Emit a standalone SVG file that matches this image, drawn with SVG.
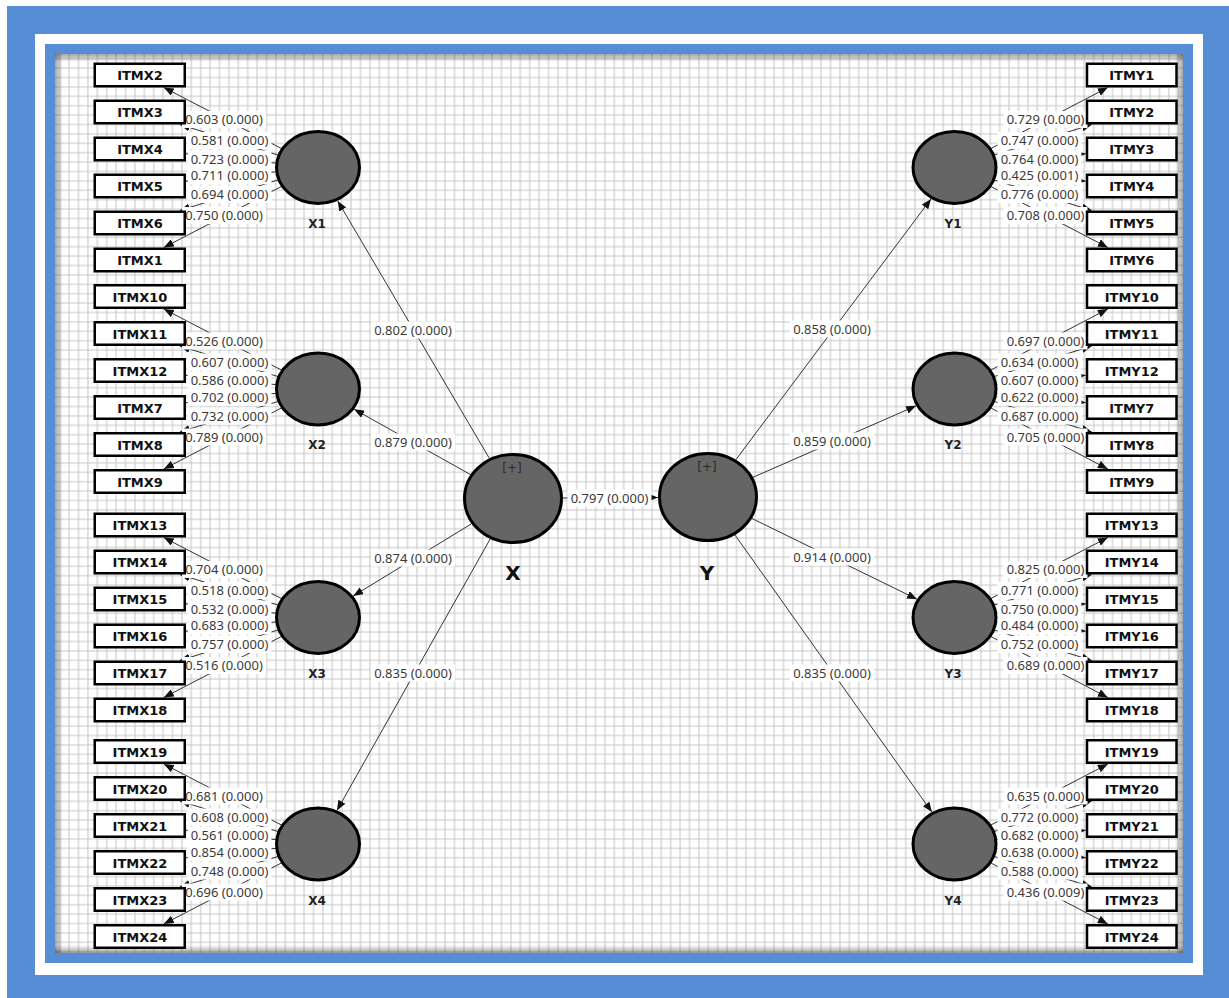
<svg xmlns="http://www.w3.org/2000/svg" width="1229" height="998" viewBox="0 0 1229 998">
<style>
.box{fill:#fff;stroke:#000;stroke-width:2.5}
.bt{font-family:"DejaVu Sans",sans-serif;font-weight:bold;font-size:13px;fill:#111;text-anchor:middle}
.lat{fill:#656565;stroke:#000;stroke-width:3}
.lt{font-family:"DejaVu Sans",sans-serif;font-weight:bold;font-size:12px;fill:#222;text-anchor:middle}
.big{font-family:"DejaVu Sans",sans-serif;font-weight:bold;font-size:20px;fill:#111;text-anchor:middle}
.pl{font-family:"DejaVu Sans",sans-serif;font-size:12px;fill:#2a2a2a;text-anchor:middle}
.ln{stroke:#333;stroke-width:1;fill:none;marker-end:url(#ah)}
.lb{fill:#fff}
.lx{font-family:"Noto Sans",sans-serif;font-size:13px;fill:#3a3a3a;text-anchor:middle}
</style>
<defs>
<pattern id="grid" x="55" y="54" width="9.4" height="9.4" patternUnits="userSpaceOnUse">
<path d="M4.7 0V9.4M0 4.7H9.4" stroke="#c4c4c4" stroke-width="1" fill="none"/>
</pattern>
<marker id="ah" viewBox="0 0 10 8" refX="10" refY="4" markerWidth="10" markerHeight="8" markerUnits="userSpaceOnUse" orient="auto">
<path d="M0,0L10,4L0,8z" fill="#111"/>
</marker>
<linearGradient id="shL" x1="0" y1="0" x2="1" y2="0"><stop offset="0" stop-color="#000" stop-opacity="0.35"/><stop offset="1" stop-color="#000" stop-opacity="0"/></linearGradient>
<linearGradient id="shR" x1="1" y1="0" x2="0" y2="0"><stop offset="0" stop-color="#000" stop-opacity="0.35"/><stop offset="1" stop-color="#000" stop-opacity="0"/></linearGradient>
<linearGradient id="shT" x1="0" y1="0" x2="0" y2="1"><stop offset="0" stop-color="#000" stop-opacity="0.35"/><stop offset="1" stop-color="#000" stop-opacity="0"/></linearGradient>
<linearGradient id="shB" x1="0" y1="1" x2="0" y2="0"><stop offset="0" stop-color="#000" stop-opacity="0.35"/><stop offset="1" stop-color="#000" stop-opacity="0"/></linearGradient>
</defs>

<g id="frame">
<rect width="1229" height="998" fill="#fff"/>
<rect x="7" y="6" width="1222" height="992" fill="#558ed5"/>
<rect x="35" y="34" width="1168" height="941" fill="#fff"/>
<rect x="45" y="44" width="1148" height="919" fill="#558ed5"/>
<rect x="55" y="54" width="1128" height="899" fill="#fff"/>
<rect x="55" y="54" width="1128" height="899" fill="url(#grid)"/>
<rect x="55" y="54" width="8" height="899" fill="url(#shL)"/>
<rect x="1175" y="54" width="8" height="899" fill="url(#shR)"/>
<rect x="55" y="54" width="1128" height="8" fill="url(#shT)"/>
<rect x="55" y="945" width="1128" height="8" fill="url(#shB)"/>
</g>

<g id="connectors">
<path class="ln" d="M318,167.5L163.8,87.5"/>
<path class="ln" d="M318,167.5L179.9,124.5"/>
<path class="ln" d="M318,167.5L186,153.8"/>
<path class="ln" d="M318,167.5L186,181.2"/>
<path class="ln" d="M318,167.5L179.9,210.5"/>
<path class="ln" d="M318,167.5L163.8,247.5"/>
<path class="ln" d="M318,389L163.8,309"/>
<path class="ln" d="M318,389L179.9,346"/>
<path class="ln" d="M318,389L186,375.3"/>
<path class="ln" d="M318,389L186,402.7"/>
<path class="ln" d="M318,389L179.9,432"/>
<path class="ln" d="M318,389L163.8,469"/>
<path class="ln" d="M318,617.5L163.8,537.5"/>
<path class="ln" d="M318,617.5L179.9,574.5"/>
<path class="ln" d="M318,617.5L186,603.8"/>
<path class="ln" d="M318,617.5L186,631.2"/>
<path class="ln" d="M318,617.5L179.9,660.5"/>
<path class="ln" d="M318,617.5L163.8,697.5"/>
<path class="ln" d="M318,844L163.8,764"/>
<path class="ln" d="M318,844L179.9,801"/>
<path class="ln" d="M318,844L186,830.3"/>
<path class="ln" d="M318,844L186,857.7"/>
<path class="ln" d="M318,844L179.9,887"/>
<path class="ln" d="M318,844L163.8,924"/>
<path class="ln" d="M954.5,167.5L1107.8,87.5"/>
<path class="ln" d="M954.5,167.5L1091.8,124.5"/>
<path class="ln" d="M954.5,167.5L1085.7,153.8"/>
<path class="ln" d="M954.5,167.5L1085.7,181.2"/>
<path class="ln" d="M954.5,167.5L1091.8,210.5"/>
<path class="ln" d="M954.5,167.5L1107.8,247.5"/>
<path class="ln" d="M954.5,389L1107.8,309"/>
<path class="ln" d="M954.5,389L1091.8,346"/>
<path class="ln" d="M954.5,389L1085.7,375.3"/>
<path class="ln" d="M954.5,389L1085.7,402.7"/>
<path class="ln" d="M954.5,389L1091.8,432"/>
<path class="ln" d="M954.5,389L1107.8,469"/>
<path class="ln" d="M954.5,617.5L1107.8,537.5"/>
<path class="ln" d="M954.5,617.5L1091.8,574.5"/>
<path class="ln" d="M954.5,617.5L1085.7,603.8"/>
<path class="ln" d="M954.5,617.5L1085.7,631.2"/>
<path class="ln" d="M954.5,617.5L1091.8,660.5"/>
<path class="ln" d="M954.5,617.5L1107.8,697.5"/>
<path class="ln" d="M954.5,844L1107.8,764"/>
<path class="ln" d="M954.5,844L1091.8,801"/>
<path class="ln" d="M954.5,844L1085.7,830.3"/>
<path class="ln" d="M954.5,844L1085.7,857.7"/>
<path class="ln" d="M954.5,844L1091.8,887"/>
<path class="ln" d="M954.5,844L1107.8,924"/>
<path class="ln" d="M489.4,458.4L337.7,200.9"/>
<path class="ln" d="M470.5,474.6L354.2,409.3"/>
<path class="ln" d="M471.5,523.8L353.2,596"/>
<path class="ln" d="M490.2,539L337,810.4"/>
<path class="ln" d="M735.9,459.7L931,198.9"/>
<path class="ln" d="M753,477.3L916.1,405.8"/>
<path class="ln" d="M752,518.5L917,599.2"/>
<path class="ln" d="M734.9,534.9L931.9,812.1"/>
<path class="ln" d="M563,498L658,497.5"/>
</g>

<g id="edge-labels">
<rect class="lb" x="182" y="111" width="84" height="17"/><text class="lx" x="224" y="124">0.603 (0.000)</text>
<rect class="lb" x="187.5" y="132" width="84" height="17"/><text class="lx" x="229.5" y="145">0.581 (0.000)</text>
<rect class="lb" x="187.5" y="150.5" width="84" height="17"/><text class="lx" x="229.5" y="163.5">0.723 (0.000)</text>
<rect class="lb" x="187.5" y="167.3" width="84" height="17"/><text class="lx" x="229.5" y="180.3">0.711 (0.000)</text>
<rect class="lb" x="187.5" y="186" width="84" height="17"/><text class="lx" x="229.5" y="199">0.694 (0.000)</text>
<rect class="lb" x="182" y="207" width="84" height="17"/><text class="lx" x="224" y="220">0.750 (0.000)</text>

<rect class="lb" x="182" y="332.5" width="84" height="17"/><text class="lx" x="224" y="345.5">0.526 (0.000)</text>
<rect class="lb" x="187.5" y="353.5" width="84" height="17"/><text class="lx" x="229.5" y="366.5">0.607 (0.000)</text>
<rect class="lb" x="187.5" y="372" width="84" height="17"/><text class="lx" x="229.5" y="385">0.586 (0.000)</text>
<rect class="lb" x="187.5" y="388.8" width="84" height="17"/><text class="lx" x="229.5" y="401.8">0.702 (0.000)</text>
<rect class="lb" x="187.5" y="407.5" width="84" height="17"/><text class="lx" x="229.5" y="420.5">0.732 (0.000)</text>
<rect class="lb" x="182" y="428.5" width="84" height="17"/><text class="lx" x="224" y="441.5">0.789 (0.000)</text>

<rect class="lb" x="182" y="561" width="84" height="17"/><text class="lx" x="224" y="574">0.704 (0.000)</text>
<rect class="lb" x="187.5" y="582" width="84" height="17"/><text class="lx" x="229.5" y="595">0.518 (0.000)</text>
<rect class="lb" x="187.5" y="600.5" width="84" height="17"/><text class="lx" x="229.5" y="613.5">0.532 (0.000)</text>
<rect class="lb" x="187.5" y="617.3" width="84" height="17"/><text class="lx" x="229.5" y="630.3">0.683 (0.000)</text>
<rect class="lb" x="187.5" y="636" width="84" height="17"/><text class="lx" x="229.5" y="649">0.757 (0.000)</text>
<rect class="lb" x="182" y="657" width="84" height="17"/><text class="lx" x="224" y="670">0.516 (0.000)</text>

<rect class="lb" x="182" y="787.5" width="84" height="17"/><text class="lx" x="224" y="800.5">0.681 (0.000)</text>
<rect class="lb" x="187.5" y="808.5" width="84" height="17"/><text class="lx" x="229.5" y="821.5">0.608 (0.000)</text>
<rect class="lb" x="187.5" y="827" width="84" height="17"/><text class="lx" x="229.5" y="840">0.561 (0.000)</text>
<rect class="lb" x="187.5" y="843.8" width="84" height="17"/><text class="lx" x="229.5" y="856.8">0.854 (0.000)</text>
<rect class="lb" x="187.5" y="862.5" width="84" height="17"/><text class="lx" x="229.5" y="875.5">0.748 (0.000)</text>
<rect class="lb" x="182" y="883.5" width="84" height="17"/><text class="lx" x="224" y="896.5">0.696 (0.000)</text>

<rect class="lb" x="1003.5" y="111" width="84" height="17"/><text class="lx" x="1045.5" y="124">0.729 (0.000)</text>
<rect class="lb" x="997.5" y="132" width="84" height="17"/><text class="lx" x="1039.5" y="145">0.747 (0.000)</text>
<rect class="lb" x="997.5" y="150.5" width="84" height="17"/><text class="lx" x="1039.5" y="163.5">0.764 (0.000)</text>
<rect class="lb" x="997.5" y="167.3" width="84" height="17"/><text class="lx" x="1039.5" y="180.3">0.425 (0.001)</text>
<rect class="lb" x="997.5" y="186" width="84" height="17"/><text class="lx" x="1039.5" y="199">0.776 (0.000)</text>
<rect class="lb" x="1003.5" y="207" width="84" height="17"/><text class="lx" x="1045.5" y="220">0.708 (0.000)</text>

<rect class="lb" x="1003.5" y="332.5" width="84" height="17"/><text class="lx" x="1045.5" y="345.5">0.697 (0.000)</text>
<rect class="lb" x="997.5" y="353.5" width="84" height="17"/><text class="lx" x="1039.5" y="366.5">0.634 (0.000)</text>
<rect class="lb" x="997.5" y="372" width="84" height="17"/><text class="lx" x="1039.5" y="385">0.607 (0.000)</text>
<rect class="lb" x="997.5" y="388.8" width="84" height="17"/><text class="lx" x="1039.5" y="401.8">0.622 (0.000)</text>
<rect class="lb" x="997.5" y="407.5" width="84" height="17"/><text class="lx" x="1039.5" y="420.5">0.687 (0.000)</text>
<rect class="lb" x="1003.5" y="428.5" width="84" height="17"/><text class="lx" x="1045.5" y="441.5">0.705 (0.000)</text>

<rect class="lb" x="1003.5" y="561" width="84" height="17"/><text class="lx" x="1045.5" y="574">0.825 (0.000)</text>
<rect class="lb" x="997.5" y="582" width="84" height="17"/><text class="lx" x="1039.5" y="595">0.771 (0.000)</text>
<rect class="lb" x="997.5" y="600.5" width="84" height="17"/><text class="lx" x="1039.5" y="613.5">0.750 (0.000)</text>
<rect class="lb" x="997.5" y="617.3" width="84" height="17"/><text class="lx" x="1039.5" y="630.3">0.484 (0.000)</text>
<rect class="lb" x="997.5" y="636" width="84" height="17"/><text class="lx" x="1039.5" y="649">0.752 (0.000)</text>
<rect class="lb" x="1003.5" y="657" width="84" height="17"/><text class="lx" x="1045.5" y="670">0.689 (0.000)</text>

<rect class="lb" x="1003.5" y="787.5" width="84" height="17"/><text class="lx" x="1045.5" y="800.5">0.635 (0.000)</text>
<rect class="lb" x="997.5" y="808.5" width="84" height="17"/><text class="lx" x="1039.5" y="821.5">0.772 (0.000)</text>
<rect class="lb" x="997.5" y="827" width="84" height="17"/><text class="lx" x="1039.5" y="840">0.682 (0.000)</text>
<rect class="lb" x="997.5" y="843.8" width="84" height="17"/><text class="lx" x="1039.5" y="856.8">0.638 (0.000)</text>
<rect class="lb" x="997.5" y="862.5" width="84" height="17"/><text class="lx" x="1039.5" y="875.5">0.588 (0.000)</text>
<rect class="lb" x="1003.5" y="883.5" width="84" height="17"/><text class="lx" x="1045.5" y="896.5">0.436 (0.009)</text>

<rect class="lb" x="371" y="321.5" width="84" height="17"/><text class="lx" x="413" y="334.5">0.802 (0.000)</text>
<rect class="lb" x="371" y="433.5" width="84" height="17"/><text class="lx" x="413" y="446.5">0.879 (0.000)</text>
<rect class="lb" x="371" y="549.5" width="84" height="17"/><text class="lx" x="413" y="562.5">0.874 (0.000)</text>
<rect class="lb" x="371" y="664.5" width="84" height="17"/><text class="lx" x="413" y="677.5">0.835 (0.000)</text>
<rect class="lb" x="790" y="320.5" width="84" height="17"/><text class="lx" x="832" y="333.5">0.858 (0.000)</text>
<rect class="lb" x="790" y="432.5" width="84" height="17"/><text class="lx" x="832" y="445.5">0.859 (0.000)</text>
<rect class="lb" x="790" y="548.5" width="84" height="17"/><text class="lx" x="832" y="561.5">0.914 (0.000)</text>
<rect class="lb" x="790" y="664.5" width="84" height="17"/><text class="lx" x="832" y="677.5">0.835 (0.000)</text>
<rect class="lb" x="567.5" y="489.5" width="84" height="17"/><text class="lx" x="609.5" y="502.5">0.797 (0.000)</text>
</g>

<g id="X"><ellipse class="lat" cx="513" cy="498.5" rx="48.5" ry="44"/><text class="pl" x="512" y="472">[+]</text><text class="big" x="513" y="580">X</text></g>
<g id="Y"><ellipse class="lat" cx="708" cy="497" rx="48.5" ry="43.5"/><text class="pl" x="707" y="471">[+]</text><text class="big" x="707" y="579.5">Y</text></g>
<g id="X1"><ellipse class="lat" cx="318" cy="167.5" rx="41.5" ry="36"/><text class="lt" x="317" y="227.6">X1</text></g>
<g id="X2"><ellipse class="lat" cx="318" cy="389" rx="41.5" ry="36"/><text class="lt" x="317" y="448.6">X2</text></g>
<g id="X3"><ellipse class="lat" cx="318" cy="617.5" rx="41.5" ry="36"/><text class="lt" x="317" y="677.6">X3</text></g>
<g id="X4"><ellipse class="lat" cx="318" cy="844" rx="41.5" ry="36"/><text class="lt" x="317" y="905">X4</text></g>
<g id="Y1"><ellipse class="lat" cx="954.5" cy="167.5" rx="41.5" ry="36"/><text class="lt" x="953" y="227.6">Y1</text></g>
<g id="Y2"><ellipse class="lat" cx="954.5" cy="389" rx="41.5" ry="36"/><text class="lt" x="953" y="448.6">Y2</text></g>
<g id="Y3"><ellipse class="lat" cx="954.5" cy="617.5" rx="41.5" ry="36"/><text class="lt" x="953" y="677.6">Y3</text></g>
<g id="Y4"><ellipse class="lat" cx="954.5" cy="844" rx="41.5" ry="36"/><text class="lt" x="953" y="905">Y4</text></g>

<g id="ITMX2"><rect class="box" x="94.75" y="63.75" width="90" height="22.5"/><text class="bt" x="140" y="80.2">ITMX2</text></g>
<g id="ITMX3"><rect class="box" x="94.75" y="100.75" width="90" height="22.5"/><text class="bt" x="140" y="117.2">ITMX3</text></g>
<g id="ITMX4"><rect class="box" x="94.75" y="137.75" width="90" height="22.5"/><text class="bt" x="140" y="154.2">ITMX4</text></g>
<g id="ITMX5"><rect class="box" x="94.75" y="174.75" width="90" height="22.5"/><text class="bt" x="140" y="191.2">ITMX5</text></g>
<g id="ITMX6"><rect class="box" x="94.75" y="211.75" width="90" height="22.5"/><text class="bt" x="140" y="228.2">ITMX6</text></g>
<g id="ITMX1"><rect class="box" x="94.75" y="248.75" width="90" height="22.5"/><text class="bt" x="140" y="265.2">ITMX1</text></g>
<g id="ITMX10"><rect class="box" x="94.75" y="285.25" width="90" height="22.5"/><text class="bt" x="140" y="301.7">ITMX10</text></g>
<g id="ITMX11"><rect class="box" x="94.75" y="322.25" width="90" height="22.5"/><text class="bt" x="140" y="338.7">ITMX11</text></g>
<g id="ITMX12"><rect class="box" x="94.75" y="359.25" width="90" height="22.5"/><text class="bt" x="140" y="375.7">ITMX12</text></g>
<g id="ITMX7"><rect class="box" x="94.75" y="396.25" width="90" height="22.5"/><text class="bt" x="140" y="412.7">ITMX7</text></g>
<g id="ITMX8"><rect class="box" x="94.75" y="433.25" width="90" height="22.5"/><text class="bt" x="140" y="449.7">ITMX8</text></g>
<g id="ITMX9"><rect class="box" x="94.75" y="470.25" width="90" height="22.5"/><text class="bt" x="140" y="486.7">ITMX9</text></g>
<g id="ITMX13"><rect class="box" x="94.75" y="513.75" width="90" height="22.5"/><text class="bt" x="140" y="530.2">ITMX13</text></g>
<g id="ITMX14"><rect class="box" x="94.75" y="550.75" width="90" height="22.5"/><text class="bt" x="140" y="567.2">ITMX14</text></g>
<g id="ITMX15"><rect class="box" x="94.75" y="587.75" width="90" height="22.5"/><text class="bt" x="140" y="604.2">ITMX15</text></g>
<g id="ITMX16"><rect class="box" x="94.75" y="624.75" width="90" height="22.5"/><text class="bt" x="140" y="641.2">ITMX16</text></g>
<g id="ITMX17"><rect class="box" x="94.75" y="661.75" width="90" height="22.5"/><text class="bt" x="140" y="678.2">ITMX17</text></g>
<g id="ITMX18"><rect class="box" x="94.75" y="698.75" width="90" height="22.5"/><text class="bt" x="140" y="715.2">ITMX18</text></g>
<g id="ITMX19"><rect class="box" x="94.75" y="740.25" width="90" height="22.5"/><text class="bt" x="140" y="756.7">ITMX19</text></g>
<g id="ITMX20"><rect class="box" x="94.75" y="777.25" width="90" height="22.5"/><text class="bt" x="140" y="793.7">ITMX20</text></g>
<g id="ITMX21"><rect class="box" x="94.75" y="814.25" width="90" height="22.5"/><text class="bt" x="140" y="830.7">ITMX21</text></g>
<g id="ITMX22"><rect class="box" x="94.75" y="851.25" width="90" height="22.5"/><text class="bt" x="140" y="867.7">ITMX22</text></g>
<g id="ITMX23"><rect class="box" x="94.75" y="888.25" width="90" height="22.5"/><text class="bt" x="140" y="904.7">ITMX23</text></g>
<g id="ITMX24"><rect class="box" x="94.75" y="925.25" width="90" height="22.5"/><text class="bt" x="140" y="941.7">ITMX24</text></g>

<g id="ITMY1"><rect class="box" x="1087" y="63.75" width="89.5" height="22.5"/><text class="bt" x="1131.75" y="80.2">ITMY1</text></g>
<g id="ITMY2"><rect class="box" x="1087" y="100.75" width="89.5" height="22.5"/><text class="bt" x="1131.75" y="117.2">ITMY2</text></g>
<g id="ITMY3"><rect class="box" x="1087" y="137.75" width="89.5" height="22.5"/><text class="bt" x="1131.75" y="154.2">ITMY3</text></g>
<g id="ITMY4"><rect class="box" x="1087" y="174.75" width="89.5" height="22.5"/><text class="bt" x="1131.75" y="191.2">ITMY4</text></g>
<g id="ITMY5"><rect class="box" x="1087" y="211.75" width="89.5" height="22.5"/><text class="bt" x="1131.75" y="228.2">ITMY5</text></g>
<g id="ITMY6"><rect class="box" x="1087" y="248.75" width="89.5" height="22.5"/><text class="bt" x="1131.75" y="265.2">ITMY6</text></g>
<g id="ITMY10"><rect class="box" x="1087" y="285.25" width="89.5" height="22.5"/><text class="bt" x="1131.75" y="301.7">ITMY10</text></g>
<g id="ITMY11"><rect class="box" x="1087" y="322.25" width="89.5" height="22.5"/><text class="bt" x="1131.75" y="338.7">ITMY11</text></g>
<g id="ITMY12"><rect class="box" x="1087" y="359.25" width="89.5" height="22.5"/><text class="bt" x="1131.75" y="375.7">ITMY12</text></g>
<g id="ITMY7"><rect class="box" x="1087" y="396.25" width="89.5" height="22.5"/><text class="bt" x="1131.75" y="412.7">ITMY7</text></g>
<g id="ITMY8"><rect class="box" x="1087" y="433.25" width="89.5" height="22.5"/><text class="bt" x="1131.75" y="449.7">ITMY8</text></g>
<g id="ITMY9"><rect class="box" x="1087" y="470.25" width="89.5" height="22.5"/><text class="bt" x="1131.75" y="486.7">ITMY9</text></g>
<g id="ITMY13"><rect class="box" x="1087" y="513.75" width="89.5" height="22.5"/><text class="bt" x="1131.75" y="530.2">ITMY13</text></g>
<g id="ITMY14"><rect class="box" x="1087" y="550.75" width="89.5" height="22.5"/><text class="bt" x="1131.75" y="567.2">ITMY14</text></g>
<g id="ITMY15"><rect class="box" x="1087" y="587.75" width="89.5" height="22.5"/><text class="bt" x="1131.75" y="604.2">ITMY15</text></g>
<g id="ITMY16"><rect class="box" x="1087" y="624.75" width="89.5" height="22.5"/><text class="bt" x="1131.75" y="641.2">ITMY16</text></g>
<g id="ITMY17"><rect class="box" x="1087" y="661.75" width="89.5" height="22.5"/><text class="bt" x="1131.75" y="678.2">ITMY17</text></g>
<g id="ITMY18"><rect class="box" x="1087" y="698.75" width="89.5" height="22.5"/><text class="bt" x="1131.75" y="715.2">ITMY18</text></g>
<g id="ITMY19"><rect class="box" x="1087" y="740.25" width="89.5" height="22.5"/><text class="bt" x="1131.75" y="756.7">ITMY19</text></g>
<g id="ITMY20"><rect class="box" x="1087" y="777.25" width="89.5" height="22.5"/><text class="bt" x="1131.75" y="793.7">ITMY20</text></g>
<g id="ITMY21"><rect class="box" x="1087" y="814.25" width="89.5" height="22.5"/><text class="bt" x="1131.75" y="830.7">ITMY21</text></g>
<g id="ITMY22"><rect class="box" x="1087" y="851.25" width="89.5" height="22.5"/><text class="bt" x="1131.75" y="867.7">ITMY22</text></g>
<g id="ITMY23"><rect class="box" x="1087" y="888.25" width="89.5" height="22.5"/><text class="bt" x="1131.75" y="904.7">ITMY23</text></g>
<g id="ITMY24"><rect class="box" x="1087" y="925.25" width="89.5" height="22.5"/><text class="bt" x="1131.75" y="941.7">ITMY24</text></g>
</svg>
